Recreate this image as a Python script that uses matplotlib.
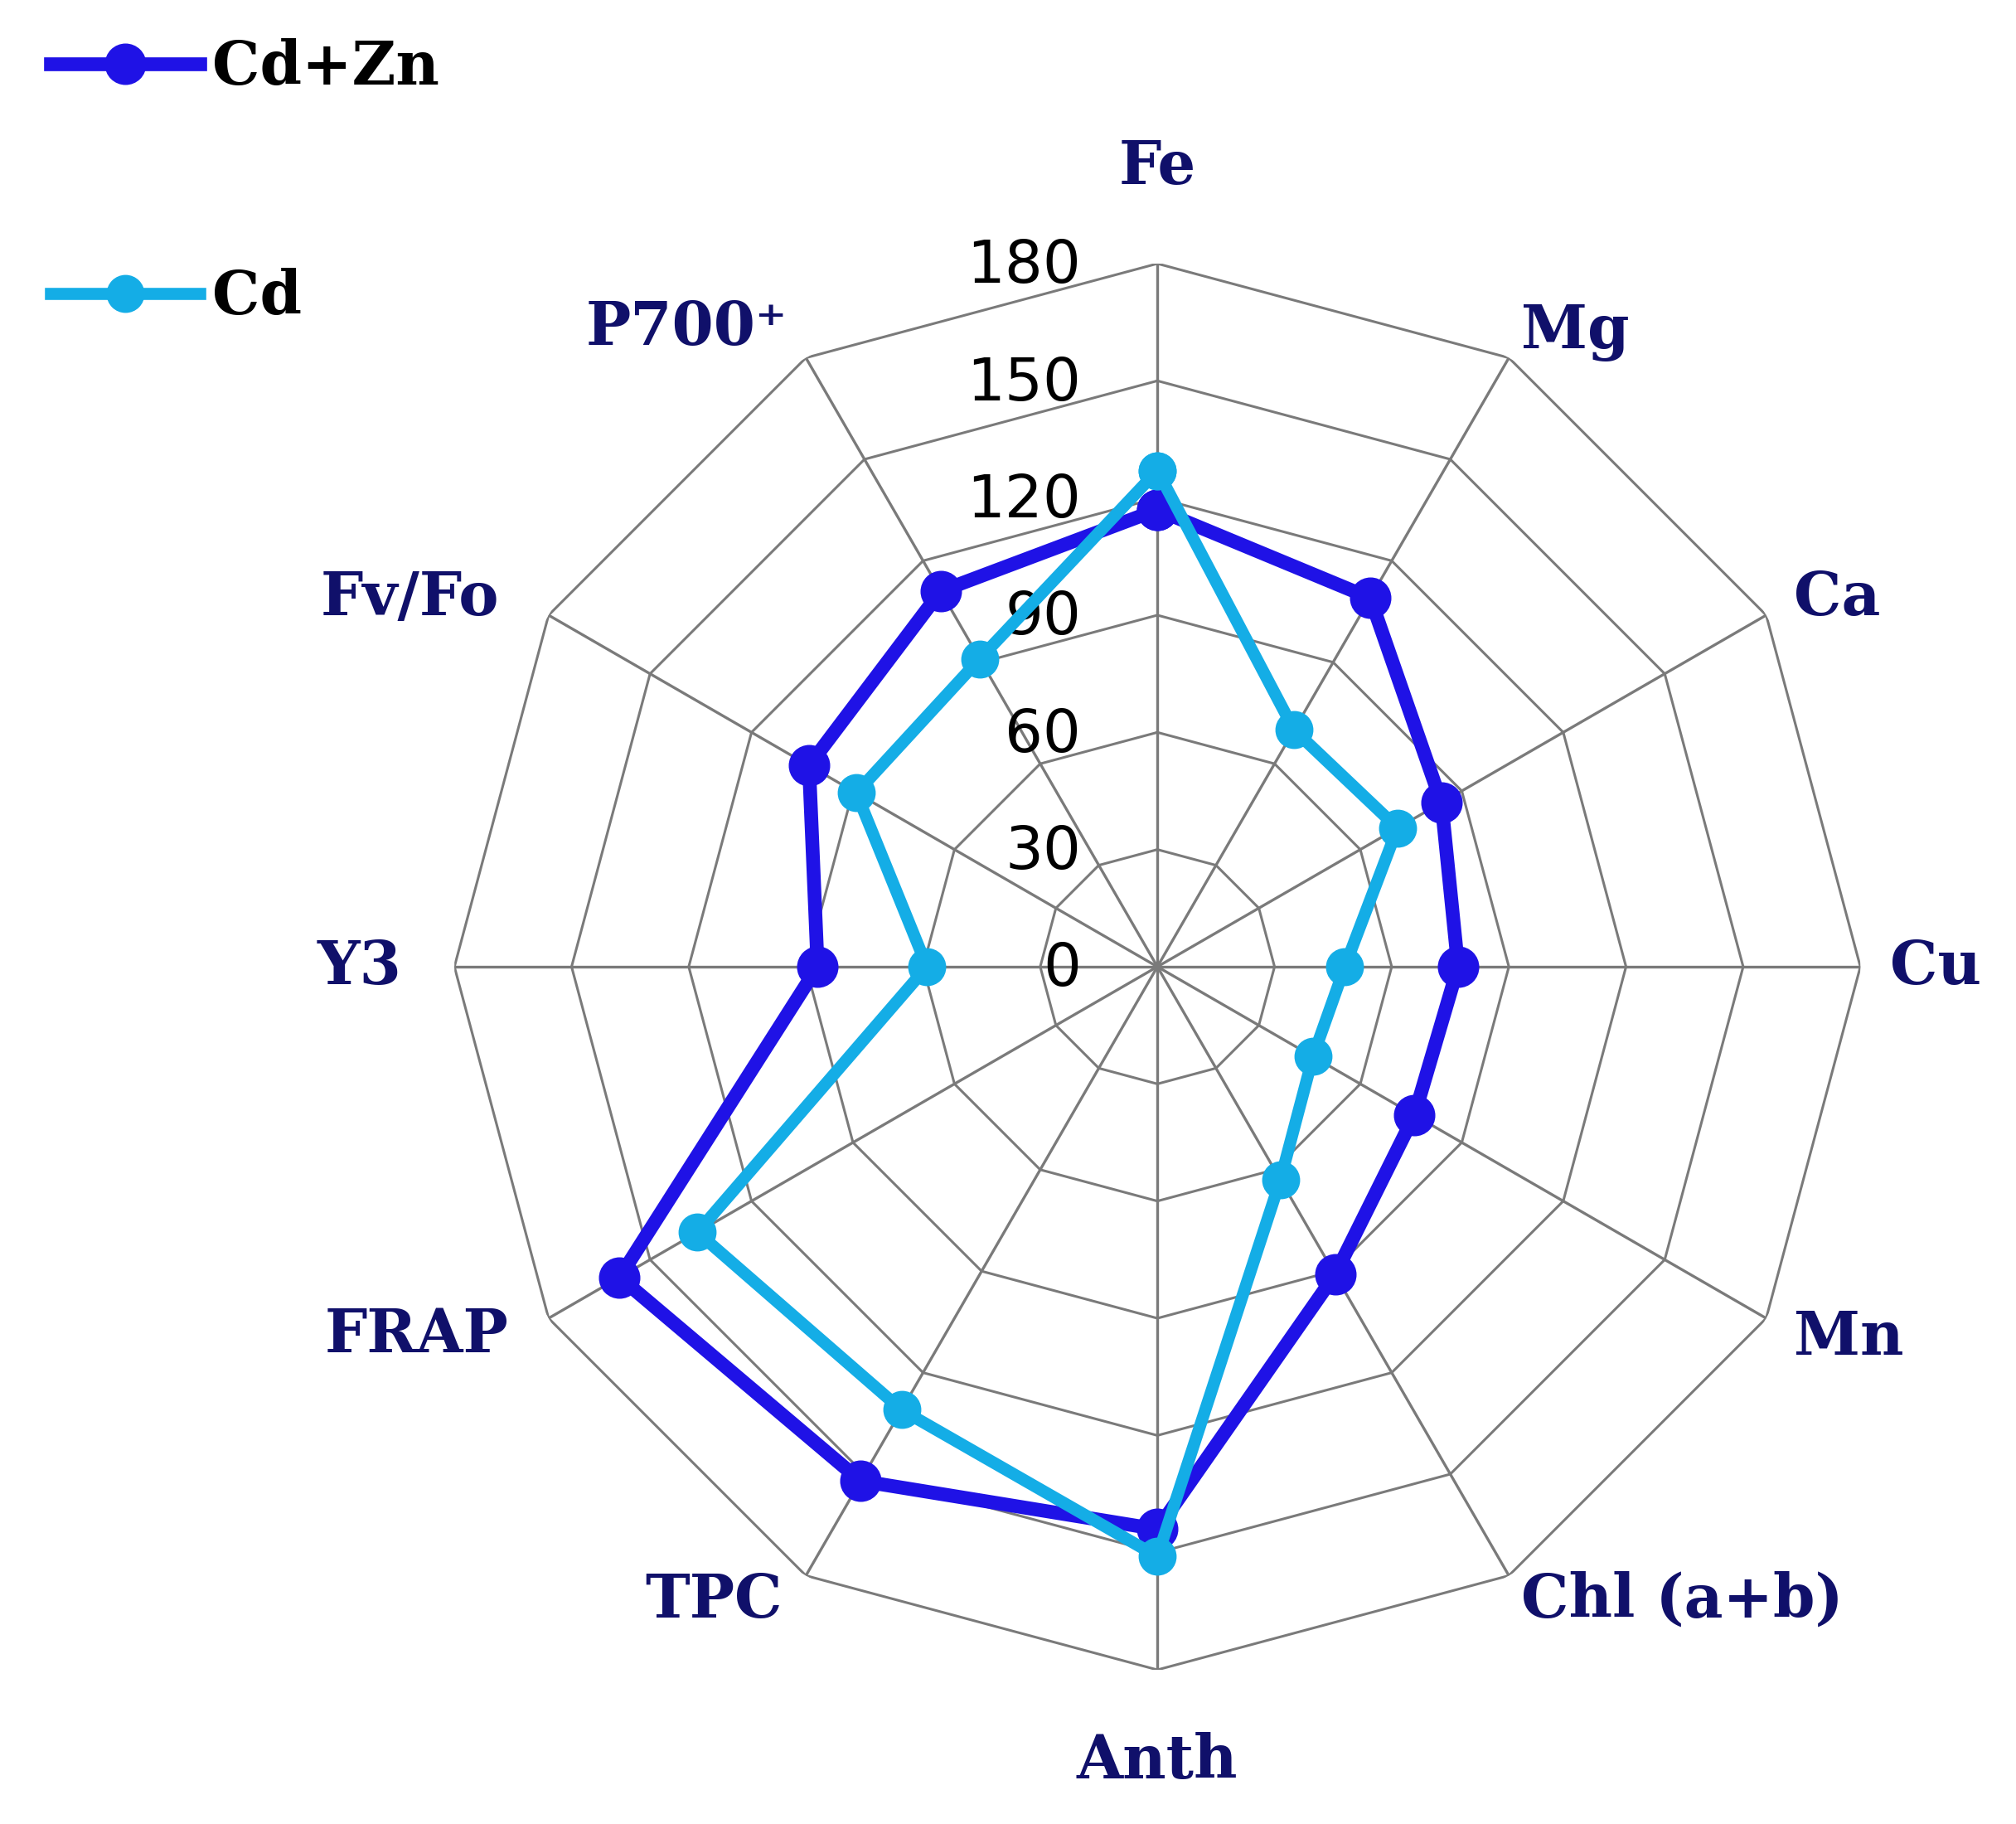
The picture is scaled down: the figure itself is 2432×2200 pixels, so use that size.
import numpy as np
import matplotlib.pyplot as plt

categories = ["Fe", "Mg", "Ca", "Cu", "Mn", "Chl (a+b)", "Anth",
              "TPC", "FRAP", "Y3", "Fv/Fo", "P700⁺"]
cd_zn = [117, 109, 84, 77, 76, 91, 144, 152, 159, 87, 103, 111]
cd = [127, 70, 71, 48, 46, 63, 151, 131, 136, 59, 89, 91]
levels = [0, 30, 60, 90, 120, 150, 180]

label_color = "#10106a"
grid_color = "#7a7a7a"

n = len(categories)
angles = [2 * np.pi * i / n for i in range(n)]
closed = angles + angles[:1]

fig = plt.figure(figsize=(24.32, 22), dpi=100)
ax = fig.add_axes([0.2254, 0.0845, 0.6974, 0.771], projection="polar")
ax.set_theta_offset(np.pi / 2)
ax.set_theta_direction(-1)
ax.set_ylim(0, 180)
ax.grid(False)
ax.spines["polar"].set_visible(False)
ax.set_xticks([])
ax.set_yticks([])

# polygon grid + spokes
for lvl in levels[1:]:
    ax.plot(closed, [lvl] * (n + 1), color=grid_color, lw=2.2, zorder=1)
for a in angles:
    ax.plot([a, a], [0, levels[-1]], color=grid_color, lw=2.4, zorder=1)

# series
l1, = ax.plot(closed, cd_zn + cd_zn[:1], color="#1f12e6", lw=12,
              marker="o", markersize=35, label="Cd+Zn", zorder=3)
l2, = ax.plot(closed, cd + cd[:1], color="#14ade6", lw=10.5,
              marker="o", markersize=32, label="Cd", zorder=4)

# radial tick labels
for lvl in levels:
    ax.annotate(str(lvl), xy=(0, lvl), xytext=(-92, -4),
                textcoords="offset pixels", ha="right", va="center",
                fontsize=52, family="DejaVu Sans", color="black",
                zorder=2)

# category labels: (dx, dy, ha) offsets in pixels from outer vertex
offsets = [(0, 116, "center"), (15, 31, "left"), (33, 20, "left"),
           (36, 0, "left"), (33, -23, "left"), (15, -30, "left"),
           (0, -110, "center"), (-28, -30, "right"), (-48, -20, "right"),
           (-64, 0, "right"), (-60, 20, "right"), (-22, 36, "right")]
for a, name, (dx, dy, ha) in zip(angles, categories, offsets):
    ax.annotate(name, xy=(a, levels[-1]), xytext=(dx, dy),
                textcoords="offset pixels", ha=ha, va="center",
                fontsize=52, family="DejaVu Serif", fontweight="bold",
                color=label_color, annotation_clip=False)

fig.legend(handles=[l1, l2], loc="upper left", bbox_to_anchor=(0.025, 0.979),
           frameon=False, borderpad=0, borderaxespad=0, handlelength=2.5,
           handletextpad=0.2, labelspacing=2.85,
           prop={"family": "DejaVu Serif", "weight": "bold", "size": 52})

fig.savefig("out.png", dpi=100)
